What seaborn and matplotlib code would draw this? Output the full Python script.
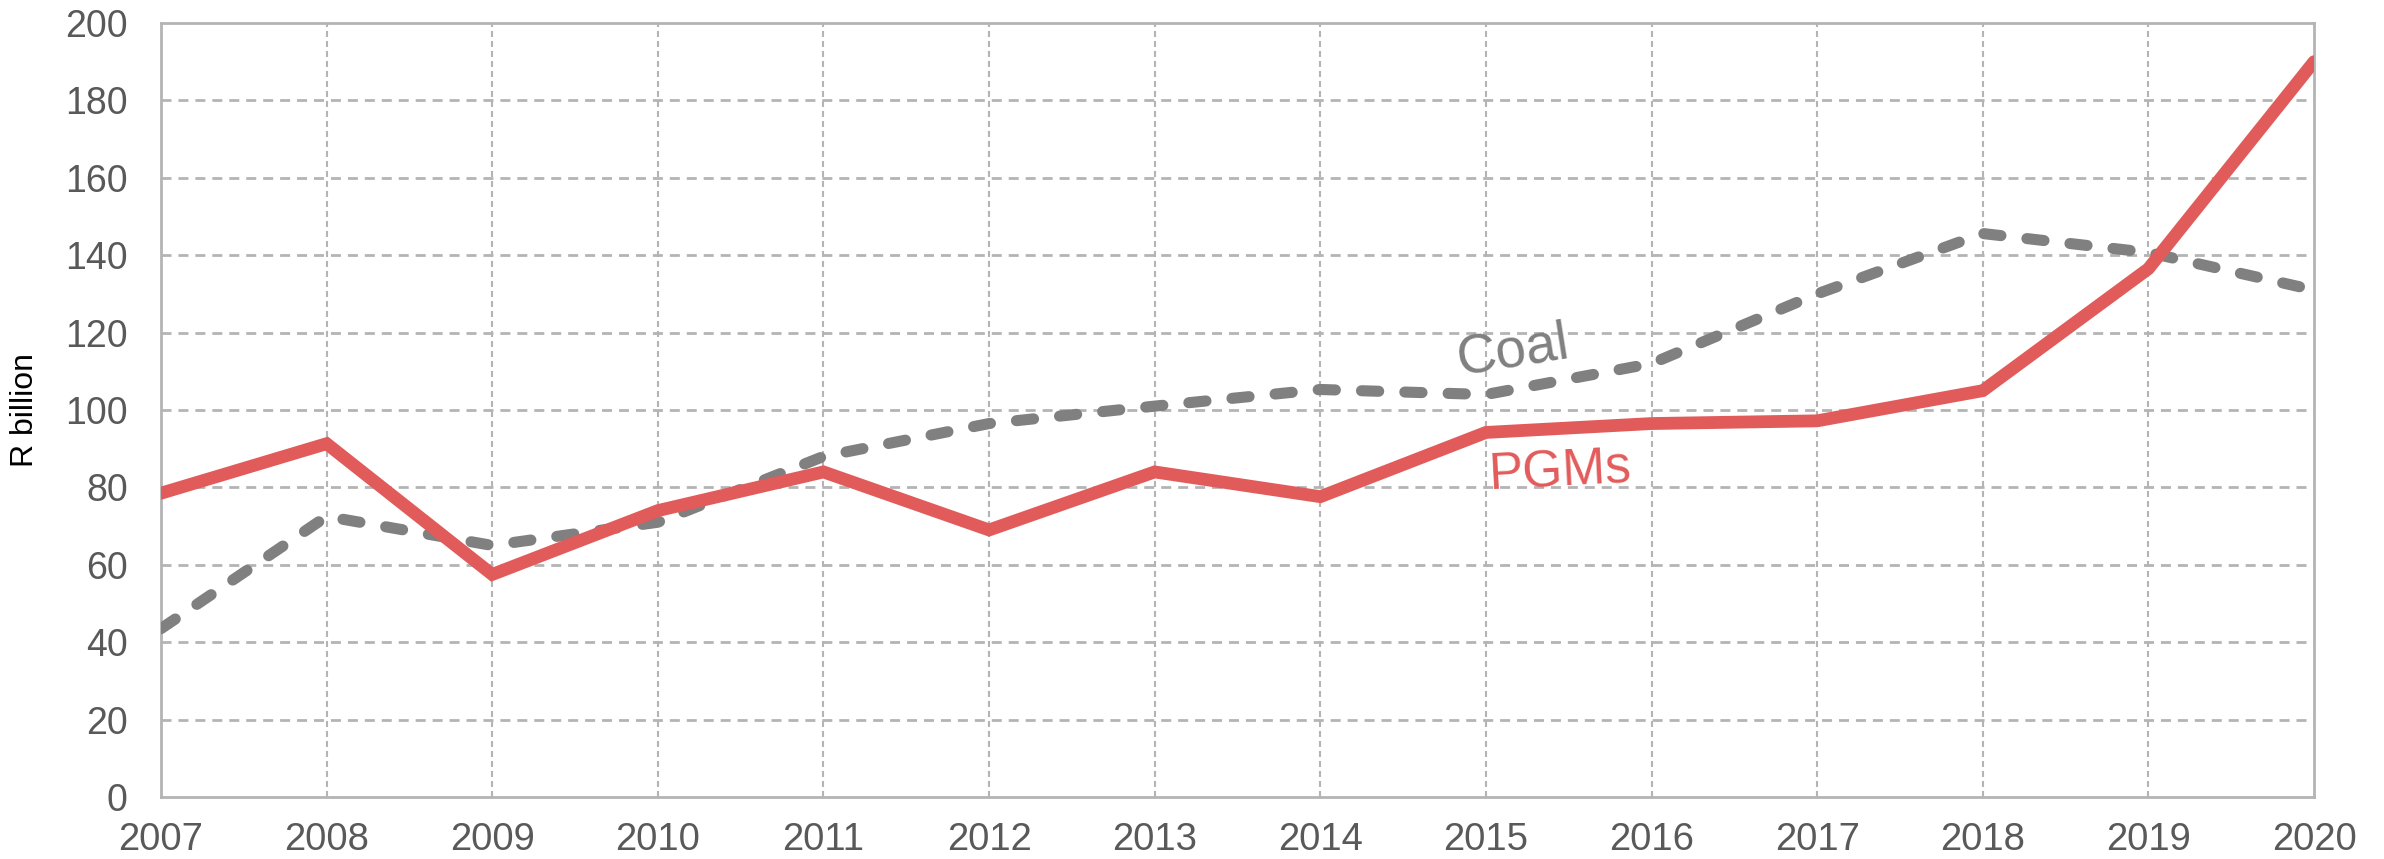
import matplotlib
matplotlib.use("Agg")
import matplotlib.pyplot as plt
import seaborn as sns
import pandas as pd

years = list(range(2007, 2021))
pgms = [78.5, 91.3, 57.5, 74.0, 84.0, 69.0, 84.0, 77.6, 94.2, 96.5, 97.2, 105.0, 136.5, 190.0]
coal = [43.5, 72.5, 65.0, 71.0, 88.0, 96.5, 101.0, 105.3, 104.0, 112.0, 130.0, 145.6, 140.7, 131.0]
yticks = list(range(0, 201, 20))

sns.set_theme(style="white")
plt.rcParams['font.family'] = ['Liberation Sans', 'DejaVu Sans']

df_p = pd.DataFrame({"year": years, "value": pgms})
df_c = pd.DataFrame({"year": years, "value": coal})

fig = plt.figure(figsize=(23.84, 8.59), dpi=100)
ax = fig.add_axes([161/2384, 1 - 797/859, (2314-161)/2384, (797-23)/859])

red = "#E25B5B"
grey = "#808080"

sns.lineplot(data=df_c, x="year", y="value", ax=ax, color=grey, linewidth=8, zorder=3)
sns.lineplot(data=df_p, x="year", y="value", ax=ax, color=red, linewidth=9.2, zorder=4)
lc = ax.lines[0]
lc.set_dashes((1.55, 2.35))
lc.set_dash_capstyle("round")
ax.lines[1].set_solid_joinstyle("miter")

ax.set_xlim(2007, 2020)
ax.set_ylim(0, 200)
ax.set_xticks(years)
ax.set_xticklabels([str(y) for y in years])
ax.set_yticks(yticks)
ax.set_xlabel("")
ax.set_ylabel("R billion", fontsize=23, color="#000000", labelpad=18)

for y in yticks[1:-1]:
    ax.axhline(y, color="#b4b4b4", linestyle=(0, (3.6, 2.5)), linewidth=2.0, zorder=1)
for x in years[1:-1]:
    ax.axvline(x, color="#b4b4b4", linestyle=(0, (2.9, 1.9)), linewidth=1.5, zorder=1)

ax.tick_params(axis="x", labelsize=27.5, colors="#595959", length=0, pad=18)
ax.tick_params(axis="y", labelsize=27, colors="#595959", length=0, pad=24)
for s in ax.spines.values():
    s.set_visible(True)
    s.set_color("#b4b4b4")
    s.set_linewidth(2)

ax.text(2015.16, 115, "Coal", color=grey, fontsize=39.5, rotation=9,
        ha="center", va="center", rotation_mode="anchor")
ax.text(2015.45, 84, "PGMs", color=red, fontsize=37, rotation=3,
        ha="center", va="center", rotation_mode="anchor")

fig.savefig("out.png", dpi=100)
